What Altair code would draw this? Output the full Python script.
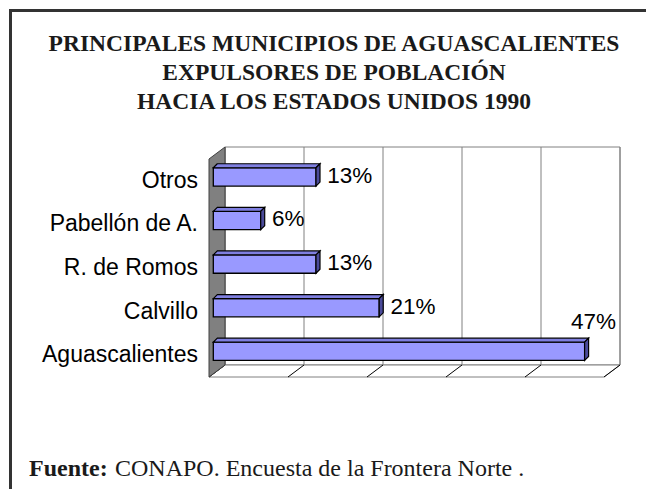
import altair as alt
import pandas as pd

# ---- data ----
CATEGORIES = ["Aguascalientes", "Calvillo", "R. de Romos", "Pabellón de A.", "Otros"]
VALUES = [47, 21, 13, 6, 13]
X_TICKS = [0, 10, 20, 30, 40, 50]
TITLE_LINES = [
    "PRINCIPALES MUNICIPIOS DE AGUASCALIENTES",
    "EXPULSORES DE POBLACIÓN",
    "HACIA LOS ESTADOS UNIDOS 1990",
]
SOURCE_BOLD = "Fuente:"
SOURCE_TEXT = "CONAPO. Encuesta de la Frontera Norte ."

# ---- geometry / style ----
W, H = 395, 218
XMAX = X_TICKS[-1]
N = len(CATEGORIES)
UX = W / XMAX          # px per x unit
UY = H / N             # px per y unit
WALL_DX = 16 / UX
WALL_DY = 12 / UY
BAR_H = 18.3 / UY
BD_X = 4 / UX
BD_Y = 4 / UY
OFF_X, OFF_Y = 4.3, -3.9

SANS = "Liberation Sans"
SERIF = "Liberation Serif"

XS = alt.Scale(domain=[0, XMAX], nice=False, zero=False)
YS = alt.Scale(domain=[0, N], nice=False, zero=False)

bars = pd.DataFrame({"name": CATEGORIES, "v": VALUES, "i": list(range(N))})
bars["x0"] = 0.0
bars["bot"] = bars["i"] + 0.5 - BAR_H / 2
bars["top"] = bars["i"] + 0.5 + BAR_H / 2
bars["yc"] = bars["i"] + 0.5
bars["label"] = [f"{v}%" for v in VALUES]

ticks = pd.DataFrame({"t": X_TICKS})
ticks["tb"] = ticks["t"] + WALL_DX
ticks["y0"] = 0.0
ticks["yb"] = WALL_DY
ticks["yt"] = N + WALL_DY

wall = pd.DataFrame([{"x": WALL_DX, "x2": XMAX + WALL_DX, "y": WALL_DY, "y2": N + WALL_DY}])
leftwall = pd.DataFrame([{"x": 0.0, "y": 0.0, "y2": float(N)},
                         {"x": WALL_DX, "y": WALL_DY, "y2": N + WALL_DY}])
floor = pd.DataFrame([{"y": 0.0, "x": 0.0, "x2": float(XMAX)},
                      {"y": WALL_DY, "x": WALL_DX, "x2": XMAX + WALL_DX}])
one = pd.DataFrame({"a": [0]})

# back wall (carries the axes)
back = alt.Chart(wall).mark_rect(fill="white", stroke="#808080", strokeWidth=1).encode(
    x=alt.X("x:Q", scale=XS, axis=alt.Axis(
        values=X_TICKS, labelExpr="datum.value + '%'", title=None, grid=False,
        tickSize=5, tickColor="black", domainColor="black", labelColor="black",
        labelFont=SANS, labelFontSize=23, labelPadding=9, zindex=2)),
    x2="x2:Q",
    y=alt.Y("y:Q", scale=YS, axis=alt.Axis(
        values=list(range(N + 1)), labels=False, title=None, grid=False,
        tickSize=5, tickColor="black", domainColor="black", zindex=2)),
    y2="y2:Q",
)

grid = alt.Chart(ticks).mark_rule(color="#808080", strokeWidth=1).encode(
    x=alt.X("tb:Q", scale=XS, axis=None), y=alt.Y("yb:Q", scale=YS, axis=None), y2="yt:Q"
)

floor_l = alt.Chart(floor).mark_area(orient="horizontal", fill="white", stroke="#808080",
                                     strokeWidth=1, opacity=1).encode(
    y=alt.Y("y:Q", scale=YS, axis=None), x=alt.X("x:Q", scale=XS, axis=None), x2="x2:Q"
)

diag = alt.Chart(ticks).mark_rule(color="black", strokeWidth=1).encode(
    x=alt.X("t:Q", scale=XS, axis=None), x2="tb:Q",
    y=alt.Y("y0:Q", scale=YS, axis=None), y2="yb:Q"
)

left_l = alt.Chart(leftwall).mark_area(orient="vertical", fill="#808080", stroke="#404040",
                                       strokeWidth=1, opacity=1).encode(
    x=alt.X("x:Q", scale=XS, axis=None), y=alt.Y("y:Q", scale=YS, axis=None), y2="y2:Q"
)

off = dict(xOffset=OFF_X, x2Offset=OFF_X, yOffset=OFF_Y, y2Offset=OFF_Y)

front = alt.Chart(bars).mark_rect(fill="#9999FF", stroke="black", strokeWidth=1.3, **off).encode(
    x=alt.X("x0:Q", scale=XS, axis=None), x2="v:Q",
    y=alt.Y("bot:Q", scale=YS, axis=None), y2="top:Q"
)

# 3-D faces of each bar: one small area per bar (top face and right end face)
face_layers = []
for name, v, bot, top in zip(bars["name"], bars["v"], bars["bot"], bars["top"]):
    top_df = pd.DataFrame([{"y": top, "x": 0.0, "x2": v},
                           {"y": top + BD_Y, "x": BD_X, "x2": v + BD_X}])
    side_df = pd.DataFrame([{"x": v, "y": bot, "y2": top},
                            {"x": v + BD_X, "y": bot + BD_Y, "y2": top + BD_Y}])
    face_layers.append(
        alt.Chart(top_df).mark_area(orient="horizontal", fill="#7F7FE0", stroke="black",
                                    strokeWidth=1.2, opacity=1, **off).encode(
            y=alt.Y("y:Q", scale=YS, axis=None), x=alt.X("x:Q", scale=XS, axis=None), x2="x2:Q"
        )
    )
    face_layers.append(
        alt.Chart(side_df).mark_area(orient="vertical", fill="#4B4B9A", stroke="black",
                                     strokeWidth=1.2, opacity=1, **off).encode(
            x=alt.X("x:Q", scale=XS, axis=None), y=alt.Y("y:Q", scale=YS, axis=None), y2="y2:Q"
        )
    )

val_lbl = alt.Chart(bars).transform_filter("datum.v < 40").mark_text(
    align="left", baseline="middle", dx=15.5, dy=-5, font=SANS, fontSize=22.5, color="black"
).encode(x=alt.X("v:Q", scale=XS, axis=None), y=alt.Y("yc:Q", scale=YS, axis=None), text="label:N")

val_lbl_big = alt.Chart(bars).transform_filter("datum.v >= 40").mark_text(
    align="right", baseline="middle", dx=35.7, dy=-33, font=SANS, fontSize=22.5, color="black"
).encode(x=alt.X("v:Q", scale=XS, axis=None), y=alt.Y("yc:Q", scale=YS, axis=None), text="label:N")

cat_lbl = alt.Chart(bars).mark_text(
    align="right", baseline="middle", dx=-11, font=SANS, fontSize=23, color="black"
).encode(x=alt.X("x0:Q", scale=XS, axis=None), y=alt.Y("yc:Q", scale=YS, axis=None), text="name:N")

title = alt.Chart(one).mark_text(
    align="center", baseline="alphabetic", font=SERIF, fontWeight="bold", fontSize=23.5,
    lineHeight=29, color="#1a1a1a"
).encode(x=alt.value(125), y=alt.value(-108), text=alt.value(TITLE_LINES))

src_b = alt.Chart(one).mark_text(
    align="left", baseline="alphabetic", font=SERIF, fontWeight="bold", fontSize=24, color="#1a1a1a"
).encode(x=alt.value(-180), y=alt.value(317), text=alt.value(SOURCE_BOLD))

src_t = alt.Chart(one).mark_text(
    align="left", baseline="alphabetic", font=SERIF, fontSize=24, color="#1a1a1a"
).encode(x=alt.value(-94), y=alt.value(317), text=alt.value(SOURCE_TEXT))

frame_top = alt.Chart(one).mark_rule(color="#333333", strokeWidth=3).encode(
    x=alt.value(-198.5), x2=alt.value(437), y=alt.value(-148.5)
)
frame_left = alt.Chart(one).mark_rule(color="#333333", strokeWidth=3).encode(
    x=alt.value(-198.5), y=alt.value(-150), y2=alt.value(330)
)

chart = alt.layer(
    back, grid, floor_l, diag, left_l, front, *face_layers,
    val_lbl, val_lbl_big, cat_lbl, title, src_b, src_t, frame_top, frame_left
).properties(
    width=W, height=H,
    autosize=alt.AutoSizeParams(type="none"),
    padding={"left": 201, "top": 151, "right": 42, "bottom": 112},
    background="white",
).configure_view(stroke=None)

chart.save("out.html", embed_options={"renderer": "svg", "actions": False})
